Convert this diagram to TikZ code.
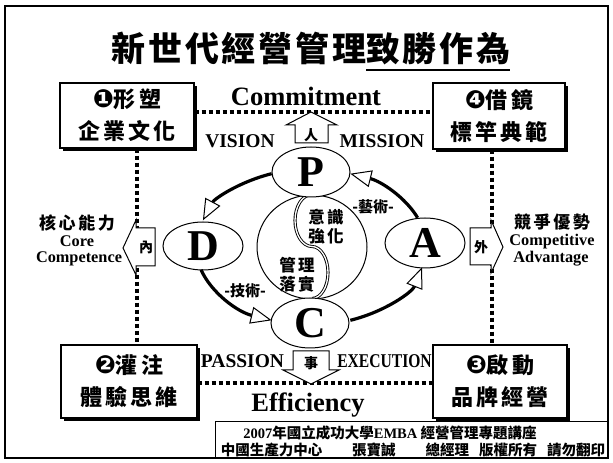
\documentclass[tikz,border=0pt]{standalone}
\usepackage{fontspec}
\setmainfont{Liberation Serif}
\newfontfamily\cjk{Noto Sans CJK TC}
\newfontfamily\cjkls{Noto Sans CJK TC}[LetterSpace=15]
\newfontfamily\cjkts{Noto Sans CJK TC}[LetterSpace=8]
\newfontfamily\dv{DejaVu Sans}
\newcommand\dvs{\dv\fontsize{25}{25}\selectfont}
\newcommand\myul[1]{\setbox0\hbox{#1}\rlap{\rule[-9pt]{\wd0}{2pt}}\box0}
\usetikzlibrary{arrows.meta,shapes.geometric,shadows}
\begin{document}
\begin{tikzpicture}[x=1pt,y=1pt,
  boxst/.style={draw,line width=1.2pt,fill=white,rectangle,align=center,inner sep=0pt,
    drop shadow={shadow xshift=3pt,shadow yshift=-3pt,fill=black,opacity=1},
    font=\cjkls\bfseries\fontsize{22}{32}\selectfont},
  ell/.style={ellipse,draw,line width=1pt,fill=white,inner sep=0pt,
    font=\bfseries\fontsize{44}{44}\selectfont},
  dotl/.style={line width=4pt,dash pattern=on 4pt off 3pt},
  loopar/.style={line width=3.2pt,-{Triangle[length=21pt,width=17pt,fill=white,line width=1pt]}},
  blk/.style={draw,line width=1pt,fill=white,line join=miter},
  blkt/.style={inner sep=0pt,font=\cjk\bfseries\fontsize{14}{14}\selectfont},
  yyt/.style={inner sep=0pt,align=center,font=\cjkls\bfseries\fontsize{16.5}{19}\selectfont},
  lab/.style={inner sep=0pt,font=\cjk\bfseries\fontsize{15}{15}\selectfont},
  cjkl/.style={inner sep=0pt,font=\cjkls\bfseries\fontsize{17}{17}\selectfont},
  eng/.style={inner sep=0pt,anchor=base,font=\bfseries\fontsize{16.3}{16.3}\selectfont},
  big/.style={inner sep=0pt,anchor=base,font=\bfseries\fontsize{26.5}{26.5}\selectfont},
  mid/.style={inner sep=0pt,anchor=base,font=\bfseries\fontsize{19.5}{19.5}\selectfont},
  cred/.style={inner sep=0pt,font=\cjk\bfseries\fontsize{14.5}{14.5}\selectfont}
]
\useasboundingbox (0,0) rectangle (613,463);
% outer frame
\draw[line width=2.5pt] (5,5) rectangle (608,457);
% title
\node[inner sep=0pt,anchor=base,font=\cjkts\bfseries\fontsize{34}{40}\selectfont] (title) at (311,401)
  {新世代經營管理\myul{致勝作為}};
% boxes
\node[boxst,minimum width=134pt,minimum height=65pt] (b1) at (127,347.5) {{\dvs ❶}形塑\\企業文化};
\node[boxst,minimum width=132pt,minimum height=66pt] (b4) at (499,347) {{\dvs ❹}借鏡\\標竿典範};
\node[boxst,minimum width=136pt,minimum height=73pt] (b2) at (129,81.5) {{\dvs ❷}灌注\\體驗思維};
\node[boxst,minimum width=134pt,minimum height=73pt] (b3) at (500,81.5) {{\dvs ❸}啟動\\品牌經營};
% dotted frame lines
\coordinate (ct) at (311,351);
\coordinate (cb) at (311,80);
\coordinate (cl) at (137,216);
\coordinate (cr) at (492,216);
\draw[dotl] (b1.east |- ct) -- (b4.west |- ct);
\draw[dotl] (b2.east |- cb) -- (b3.west |- cb);
\draw[dotl] (cl |- b1.south) -- (cl |- b2.north);
\draw[dotl] (cr |- b4.south) -- (cr |- b3.north);
% block arrows
\draw[blk] (311,351) -- (337,338) -- (328,338) -- (328,320) -- (295,320) -- (295,338) -- (286,338) -- cycle;
\draw[blk] (311,79) -- (339,93) -- (329,93) -- (329,112) -- (293,112) -- (293,93) -- (283,93) -- cycle;
\draw[blk] (123,215) -- (136,243) -- (136,235) -- (155,235) -- (155,197) -- (136,197) -- (136,188) -- cycle;
\draw[blk] (503,216) -- (491,243) -- (491,235) -- (470,235) -- (470,198) -- (491,198) -- (491,190) -- cycle;
\node[blkt] (tren) at (311,328) {人};
\node[blkt] (tshi) at (311,100) {事};
\node[blkt] (tnei) at (146,216) {內};
\node[blkt] (twai) at (481,216) {外};
% words
\node[big] (commit) at (306,357) {Commitment};
\node[big] (eff) at (308,51) {Efficiency};
\node[mid] (vis) at (240,315) {VISION};
\node[mid] (mis) at (382,315) {MISSION};
\node[mid] (pas) at (242.5,95) {PASSION};
\node[mid] (exe) at (384.5,95) {\scalebox{0.8}[1]{EXECUTION}};
\node[cjkl] (hx) at (77,240) {核心能力};
\node[eng] (core) at (77,216.5) {Core};
\node[eng] (comp) at (79,200) {Competence};
\node[cjkl] (jz) at (552,241) {競爭優勢};
\node[eng] (cpt) at (552,217) {Competitive};
\node[eng] (adv) at (551,200) {Advantage};
% yin-yang
\node[ellipse,draw,line width=1pt,minimum width=110pt,minimum height=104pt,inner sep=0pt] (yy) at (312,216) {};
\draw[line width=0.9pt,double=white,double distance=1.3pt]
  (yy.north) arc[start angle=90,end angle=270,x radius=17pt,y radius=26pt]
  arc[start angle=90,end angle=-90,x radius=16pt,y radius=26pt];
\node[yyt] (t1) at (326,236.5) {意識\\強化};
\node[yyt] (t2) at (297,188.5) {管理\\落實};
% PDCA ellipses
\node[ell,minimum width=78pt,minimum height=50pt] (P) at (311,291) {P};
\node[ell,minimum width=80pt,minimum height=48pt] (D) at (203,217) {D};
\node[ell,minimum width=80pt,minimum height=50pt] (A) at (425,220) {A};
\node[ell,minimum width=78pt,minimum height=50pt] (C) at (310,140) {C};
% loop
\coordinate (lc) at (311,216);
\draw[loopar] (lc) ++(110:115pt and 78pt) arc[start angle=110,end angle=160,x radius=115pt,y radius=78pt];
\draw[loopar] (lc) ++(197:115pt and 78pt) arc[start angle=197,end angle=250,x radius=115pt,y radius=78pt];
\draw[loopar] (lc) ++(290:115pt and 78pt) arc[start angle=290,end angle=345,x radius=115pt,y radius=78pt];
\draw[loopar] (lc) ++(22:115pt and 78pt) arc[start angle=22,end angle=70,x radius=115pt,y radius=78pt];
\node[lab] (art) at (373,256) {-藝術-};
\node[lab] (tech) at (245,172) {-技術-};
% credit
\node[draw,line width=1.2pt,anchor=south west,minimum width=393pt,minimum height=36pt,inner sep=0pt] (credit) at (215,5) {};
\node[cred] (cr1) at (390,30) {{\rmfamily\bfseries 2007}年國立成功大學{\rmfamily\bfseries EMBA} 經營管理專題講座};
\node[cred] (cr2) at (413,13) {中國生產力中心\hspace{30pt}張寶誠\hspace{30pt}總經理\hspace{10pt}版權所有\hspace{10pt}請勿翻印};
\end{tikzpicture}
\end{document}
